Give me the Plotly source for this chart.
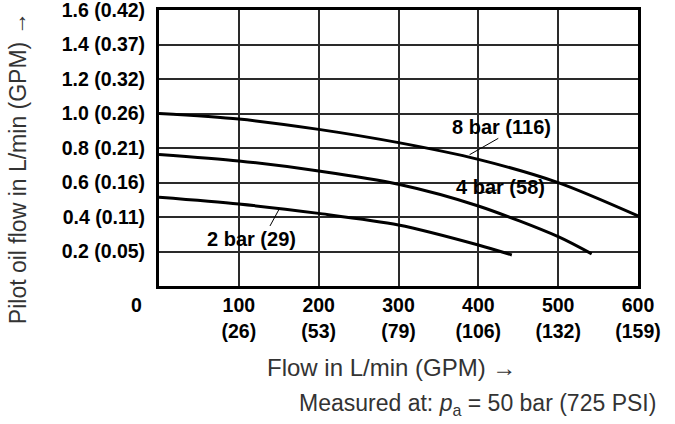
import plotly.graph_objects as go

# ---- data ----
x_8bar = [0, 100, 200, 300, 400, 500, 600]
y_8bar = [1.0, 0.968, 0.908, 0.831, 0.734, 0.599, 0.406]

x_4bar = [0, 100, 200, 300, 400, 500, 542]
y_4bar = [0.763, 0.725, 0.667, 0.590, 0.464, 0.286, 0.186]

x_2bar = [0, 100, 200, 300, 400, 442]
y_2bar = [0.514, 0.475, 0.421, 0.354, 0.238, 0.180]

x_tickvals = [100, 200, 300, 400, 500, 600]
x_ticktext = ["100<br>(26)", "200<br>(53)", "300<br>(79)", "400<br>(106)", "500<br>(132)", "600<br>(159)"]
y_tickvals = [0.2, 0.4, 0.6, 0.8, 1.0, 1.2, 1.4, 1.6]
y_ticktext = ["0.2 (0.05)", "0.4 (0.11)", "0.6 (0.16)", "0.8 (0.21)", "1.0 (0.26)",
              "1.2 (0.32)", "1.4 (0.37)", "1.6 (0.42)"]

# curve labels: text, text position, leader start (label side), leader end (curve side)
curve_labels = [
    ("8 bar (116)", 429, 0.922, 425, 0.856, 389, 0.761),
    ("4 bar (58)", 428, 0.574, 424, 0.557, 400, 0.537),
    ("2 bar (29)", 116, 0.272, 139, 0.348, 151, 0.450),
]

FONT = "Liberation Sans, Arial, Helvetica, sans-serif"
TICKFONT = dict(family=FONT, size=19.5, color="black")
LABELFONT = dict(family=FONT, size=20, color="black")
TITLEFONT = dict(family=FONT, size=23, color="#333333")


def b(s):
    return "<b>" + s.replace("<br>", "</b><br><b>") + "</b>"


fig = go.Figure()
for xs, ys in [(x_8bar, y_8bar), (x_4bar, y_4bar), (x_2bar, y_2bar)]:
    fig.add_trace(go.Scatter(x=xs, y=ys, mode="lines",
                             line=dict(color="black", width=3, shape="spline", smoothing=0.8),
                             showlegend=False, hoverinfo="skip"))

for txt, tx, ty, lx0, ly0, lx1, ly1 in curve_labels:
    fig.add_trace(go.Scatter(x=[lx0, lx1], y=[ly0, ly1], mode="lines",
                             line=dict(color="black", width=1),
                             showlegend=False, hoverinfo="skip"))
    fig.add_annotation(x=tx, y=ty, xref="x", yref="y", text=b(txt), showarrow=False,
                       xanchor="center", yanchor="middle", font=LABELFONT)

axis_common = dict(showgrid=True, gridcolor="#2a2a2a", gridwidth=1.6,
                   showline=True, linecolor="black", linewidth=3, mirror=True,
                   zeroline=False, automargin=False, tickmode="array",
                   ticks="outside", tickcolor="rgba(0,0,0,0)",
                   ticklabeloverflow="allow", tickfont=TICKFONT, layer="below traces")

fig.update_layout(
    width=675, height=424,
    margin=dict(l=159, r=37, t=10, b=138, autoexpand=False),
    paper_bgcolor="white", plot_bgcolor="white",
    font=dict(family=FONT, color="black"),
    xaxis=dict(range=[0, 600], tickvals=x_tickvals, ticktext=[b(t) for t in x_ticktext],
               ticklen=0, **axis_common),
    yaxis=dict(range=[0, 1.6], tickvals=y_tickvals, ticktext=[b(t) for t in y_ticktext],
               ticklen=7, **axis_common),
)

fig.add_annotation(xref="paper", yref="paper", x=-0.046, y=-0.069, text=b("0"),
                   xanchor="center", yanchor="middle", showarrow=False, font=TICKFONT)
fig.add_annotation(xref="paper", yref="paper", x=-0.294, y=0.4275, textangle=-90,
                   xanchor="center", yanchor="middle",
                   text="Pilot oil flow in L/min (GPM) →", showarrow=False, font=TITLEFONT)
fig.add_annotation(xref="paper", yref="paper", x=0.4864, y=-0.2935,
                   xanchor="center", yanchor="middle",
                   text="Flow in L/min (GPM) →", showarrow=False,
                   font=dict(family=FONT, size=24, color="#333333"))
fig.add_annotation(xref="paper", yref="paper", x=0.665, y=-0.431,
                   xanchor="center", yanchor="middle",
                   text="Measured at: <i>p</i><sub>a</sub> = 50 bar (725 PSI)", showarrow=False,
                   font=TITLEFONT)

fig.write_html("out.html", config={"displayModeBar": False},
               post_script="document.body.style.margin='0';")
